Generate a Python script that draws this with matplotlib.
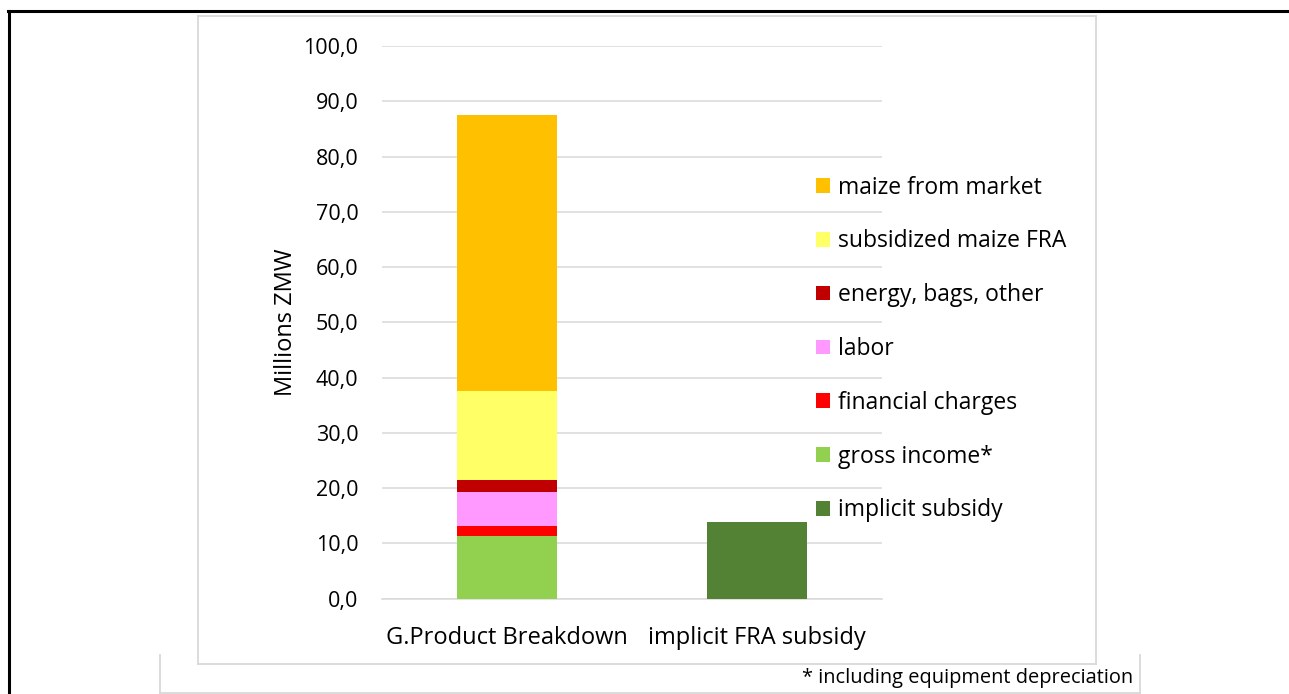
"""Cost breakdown of G.Product vs implicit FRA subsidy (stacked bar)."""

import matplotlib.pyplot as plt
from matplotlib.lines import Line2D
from matplotlib.ticker import FuncFormatter

plt.rcParams["font.family"] = ["Open Sans", "DejaVu Sans"]

W, H = 1289, 694

categories = ["G.Product Breakdown", "implicit FRA subsidy"]

# stacking order, bottom to top (first bar)
segments = [
    "gross income*",
    "financial charges",
    "labor",
    "energy, bags, other",
    "subsidized maize FRA",
    "maize from market",
]
segment_values = [11.3, 1.9, 6.1, 2.1, 16.2, 49.9]
segment_colors = ["#92D050", "#FF0000", "#FF99FF", "#C00000", "#FFFF66", "#FFC000"]

subsidy_label = "implicit subsidy"
subsidy_value = 13.9
subsidy_color = "#548235"

y_ticks = [0, 10, 20, 30, 40, 50, 60, 70, 80, 90, 100]
footnote = "* including equipment depreciation"
grid_color = "#D9D9D9"


def px(x, y):
    """Pixel coords (top-left origin) to figure fraction."""
    return x / W, 1 - y / H


fig = plt.figure(figsize=(W / 100, H / 100), dpi=100)
ax = fig.add_axes([382 / W, 95.3 / H, 500 / W, 552.7 / H])

handles = []
bottom = 0.0
for name, val, col in zip(segments, segment_values, segment_colors):
    b = ax.bar(0, val, bottom=bottom, width=0.4, color=col, label=name, zorder=3)
    handles.append(b)
    bottom += val
sub = ax.bar(1, subsidy_value, width=0.4, color=subsidy_color, label=subsidy_label, zorder=3)

ax.set_xlim(-0.5, 1.5)
ax.set_ylim(0, 100)
ax.set_yticks(y_ticks)
ax.yaxis.set_major_formatter(FuncFormatter(lambda v, _: f"{v:.1f}".replace(".", ",")))
ax.set_xticks([0, 1])
ax.set_xticklabels(categories)
ax.tick_params(axis="both", length=0, colors="black")
ax.tick_params(axis="y", pad=17, labelsize=15.5)
ax.tick_params(axis="x", pad=19.5, labelsize=17)
ax.grid(axis="y", color=grid_color, linewidth=1.1, zorder=0)
for s in ["top", "right", "left"]:
    ax.spines[s].set_visible(False)
ax.spines["bottom"].set_color(grid_color)
ax.spines["bottom"].set_linewidth(1.1)
ax.set_ylabel("Millions ZMW", fontsize=17, labelpad=4)

leg_handles = handles[::-1] + [sub]
fig.legend(
    handles=leg_handles,
    labels=[h.get_label() for h in leg_handles],
    loc="center left",
    bbox_to_anchor=(816 / W, 1 - 349 / H),
    frameon=False,
    fontsize=16.5,
    handlelength=0.6,
    handleheight=0.6,
    handletextpad=0.35,
    labelspacing=1.3,
    borderpad=0,
    borderaxespad=0,
)

# frames: outer black border, grey chart box, grey footnote box
frame_lines = [
    ((8, 10.5), (W, 10.5), "black", 2.2),
    ((9, 10.5), (9, H), "black", 2.2),
    ((198, 16), (1096, 16), grid_color, 1.3),
    ((198, 16), (198, 664), grid_color, 1.3),
    ((1096, 16), (1096, 664), grid_color, 1.3),
    ((198, 664), (1096, 664), grid_color, 1.3),
    ((160, 655), (160, 694), grid_color, 1.3),
    ((1140, 655), (1140, 694), grid_color, 1.3),
    ((160, 693), (1140, 693), grid_color, 1.3),
]
for p0, p1, col, lw in frame_lines:
    (x0, y0), (x1, y1) = px(*p0), px(*p1)
    fig.add_artist(Line2D([x0, x1], [y0, y1], transform=fig.transFigure,
                          color=col, linewidth=lw))

fx, fy = px(1133, 678)
fig.text(fx, fy, footnote, ha="right", va="center", fontsize=14.4)

fig.savefig("out.png", dpi=100)
plt.close(fig)
